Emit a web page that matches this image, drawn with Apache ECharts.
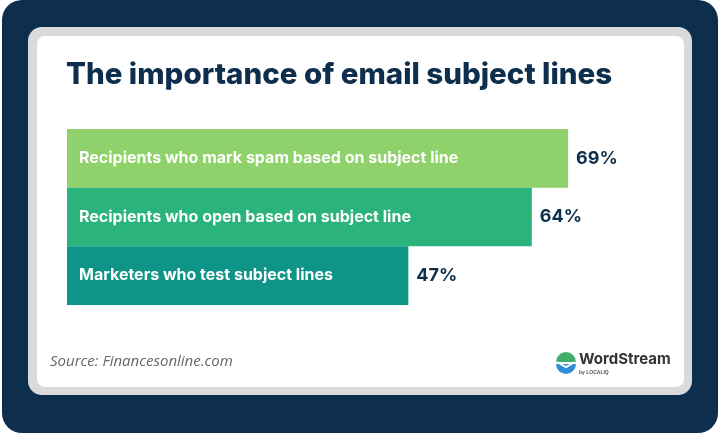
<!DOCTYPE html>
<html><head><meta charset="utf-8">
<script src="https://cdn.jsdelivr.net/npm/echarts@6/dist/echarts.min.js"></script>
<style>html,body{margin:0;padding:0;background:#fff}#main{width:720px;height:440px}</style>
</head><body><div id="main"></div>
<script>
var chart = echarts.init(document.getElementById('main'));

var categories = ['Recipients who mark spam based on subject line', 'Recipients who open based on subject line', 'Marketers who test subject lines'];
var values = [69, 64, 47];
var barColors = ['#8fd26b', '#2ab47b', '#0f9488'];
var navy = '#0d2f4d';

var option = {
  animation: false,
  graphic: [
    {type: 'rect', shape: {x: 2, y: 0, width: 716, height: 433, r: 20}, style: {fill: navy}, z: -10},
    {type: 'rect', shape: {x: 28, y: 27, width: 664, height: 368, r: 14}, style: {fill: '#d9dadb'}, z: -9},
    {type: 'rect', shape: {x: 37, y: 36, width: 647, height: 351, r: 8}, style: {fill: '#ffffff'}, z: -8},
    {type: 'text', left: 66, top: 60, style: {text: 'The importance of email subject lines', fill: navy, font: '800 29.5px Inter, "Open Sans", sans-serif'}},
    {type: 'text', left: 50, top: 354, style: {text: 'Source: Financesonline.com', fill: '#666', font: 'italic 15px "Open Sans", sans-serif'}},
    // logo
    {type: 'sector', shape: {cx: 566, cy: 362, r0: 0, r: 10, startAngle: Math.PI, endAngle: 2 * Math.PI}, style: {fill: '#3fae6a'}},
    {type: 'sector', shape: {cx: 566, cy: 364, r0: 0, r: 10, startAngle: 0, endAngle: Math.PI}, style: {fill: '#2e8fd8'}},
    {type: 'polyline', shape: {points: [[557, 362], [566, 367], [575, 362]]}, style: {stroke: '#fff', lineWidth: 2, fill: null}},
    {type: 'text', left: 579, top: 352, style: {text: 'WordStream', fill: '#333', font: 'bold 15px Inter, sans-serif'}},
    {type: 'text', left: 579, top: 370, style: {text: 'by LOCALIQ', fill: '#555', font: 'bold 5px sans-serif'}}
  ],
  grid: {left: 67, top: 129, width: 581, height: 176},
  xAxis: {type: 'value', min: 0, max: 80, show: false},
  yAxis: {type: 'category', data: categories, inverse: true, show: false},
  series: [{
    type: 'bar',
    barCategoryGap: 0,
    data: values.map(function (v, i) { return {value: v, itemStyle: {color: barColors[i]}}; }),
    label: {
      show: true, position: 'insideLeft', distance: 12,
      formatter: function (p) { return p.name; },
      color: '#fff', fontSize: 16, fontWeight: 'bold', fontFamily: 'Inter, sans-serif'
    }
  }, {
    type: 'bar',
    barGap: '-100%',
    barCategoryGap: 0,
    silent: true,
    data: values,
    itemStyle: {color: 'transparent'},
    label: {
      show: true, position: 'right', distance: 8,
      formatter: '{c}%',
      color: navy, fontSize: 18, fontWeight: 'bold', fontFamily: 'Inter, sans-serif'
    }
  }]
};
chart.setOption(option);
</script>
</body></html>
